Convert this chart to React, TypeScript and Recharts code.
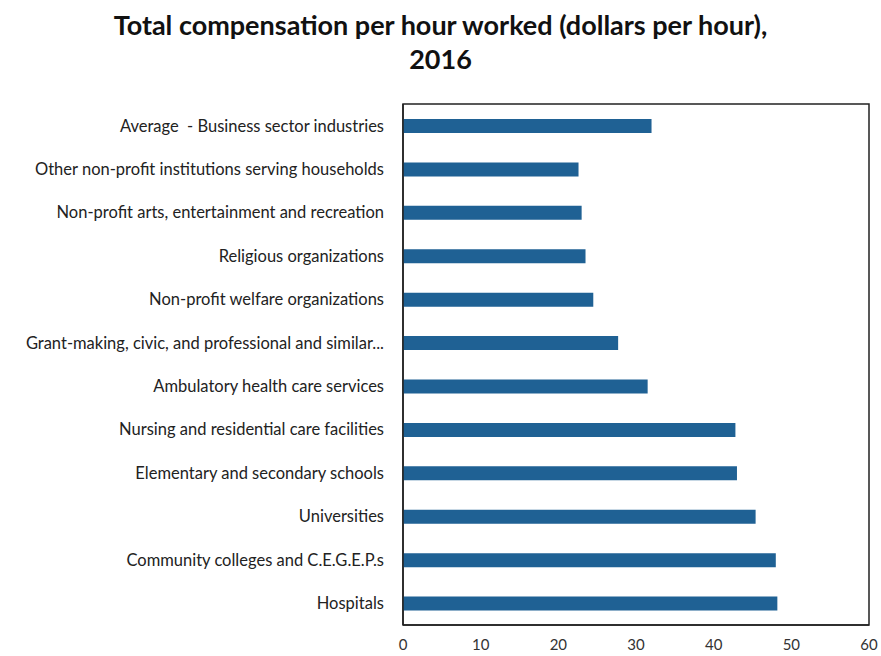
import React from 'react';
import { BarChart, Bar, XAxis, YAxis, ReferenceArea } from 'recharts';

const categories = [
  'Average \u00a0- Business sector industries',
  'Other non-profit institutions serving households',
  'Non-profit arts, entertainment and recreation',
  'Religious organizations',
  'Non-profit welfare organizations',
  'Grant-making, civic, and professional and similar...',
  'Ambulatory health care services',
  'Nursing and residential care facilities',
  'Elementary and secondary schools',
  'Universities',
  'Community colleges and C.E.G.E.P.s',
  'Hospitals',
];
const compensation = [32.0, 22.6, 23.0, 23.5, 24.5, 27.7, 31.5, 42.8, 43.0, 45.4, 48.0, 48.2];
const xTicks = [0, 10, 20, 30, 40, 50, 60];

const FONT = 'Lato, "Open Sans", sans-serif';

export default function App() {
  const rows = categories.map((name, i) => ({ name, value: compensation[i] }));

  return (
    <div style={{ position: 'absolute', left: 0, top: 0, width: 881, height: 656, background: '#fff', fontFamily: FONT }}>
      <div style={{
        position: 'absolute', left: 0, top: 8, width: 881, textAlign: 'center',
        fontSize: 27, fontWeight: 700, lineHeight: '34px', color: '#111',
      }}>
        Total compensation per hour worked (dollars per hour),<br />2016
      </div>
      <BarChart
        width={881}
        height={656}
        data={rows}
        layout="vertical"
        margin={{ top: 104, right: 12, left: 0, bottom: 0 }}
        barSize={14}
      >
        <XAxis
          type="number"
          domain={[0, 60]}
          ticks={xTicks}
          height={31}
          tickLine={false}
          axisLine={{ stroke: '#222', strokeWidth: 1.5 }}
          tick={{ fontSize: 15, fill: '#333', fontFamily: FONT }}
          tickMargin={8}
        />
        <YAxis
          type="category"
          dataKey="name"
          width={403}
          interval={0}
          tickLine={false}
          axisLine={{ stroke: '#222', strokeWidth: 1.5 }}
          tick={{ fontSize: 16.5, fill: '#222', fontFamily: FONT }}
          tickMargin={13}
        />
        <ReferenceArea x1={0} x2={60} fill="none" stroke="#222" strokeWidth={1.5} ifOverflow="visible" />
        <Bar dataKey="value" fill="#1f6194" isAnimationActive={false} />
      </BarChart>
    </div>
  );
}
